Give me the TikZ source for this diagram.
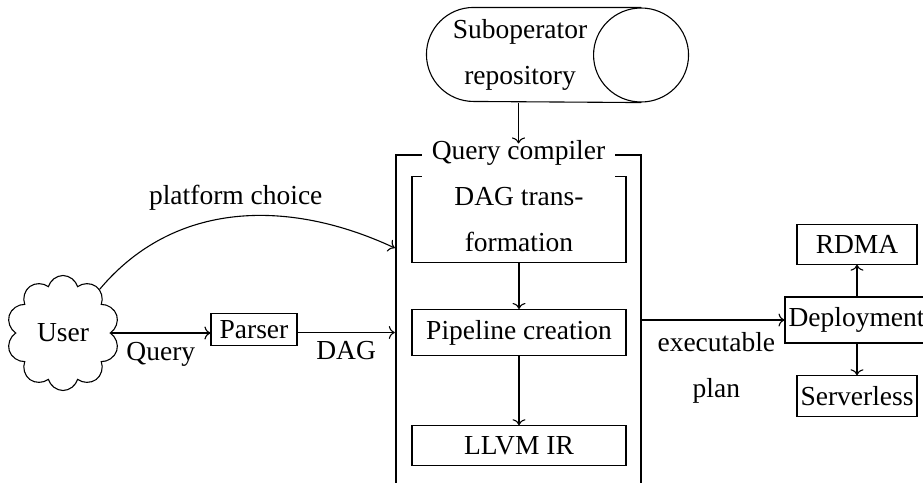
\documentclass[tikz,border=0pt]{standalone}
\usepackage{fontspec}
\setmainfont{Liberation Serif}
\usetikzlibrary{shapes.geometric,shapes.symbols,arrows.meta,calc}
\begin{document}
\begin{tikzpicture}[x=1pt,y=-1pt,
  font=\fontsize{27.5}{46}\selectfont,
  line width=1.1pt,
  arr/.style={-{To[length=6pt,width=13pt]}},
  box/.style={draw, rectangle, inner xsep=3.5pt, inner ysep=10.5pt},
  cbox/.style={box, minimum width=214pt, align=center},
]
\useasboundingbox (0,0) rectangle (923,482);
% suboperator repository (horizontal cylinder)
\node[minimum width=261pt, minimum height=94pt, inner sep=0pt] (repo) at (557.5,55) {};
\node[align=center, inner sep=0pt] (repotxt) at (520,55) {Suboperator\\repository};
\draw ($(repo.north east)+(-47.5,0)$) -- ($(repo.north west)+(47,0)$)
  arc[start angle=-90, end angle=-270, radius=47]
  -- ($(repo.south east)+(-47.5,0)$);
\draw ($(repo.east)+(-47.5,0)$) ellipse[x radius=47.5, y radius=47];

\node[draw, line width=2.4pt, minimum width=245pt, minimum height=360pt] (qc) at (518.5,335) {};
\node[cbox] (dag) at (519,219.5) {DAG trans-\\formation};
\node[cbox] (pipe) at (519,332.5) {Pipeline creation};
\node[cbox] (llvm) at (519,445.5) {LLVM IR};
\node[fill=white, inner xsep=10pt, inner ysep=0pt, text height=15pt, text depth=19pt] (qcl) at (518.5,161) {Query compiler};
\draw[arr] (qcl.north |- repo.south) -- (qcl.north);
\draw[arr] (dag) -- (pipe);
\draw[arr] (pipe) -- (llvm);

\node[cloud, draw, cloud puffs=10, aspect=1, minimum width=113pt, minimum height=115pt, inner sep=0pt] (user) at (63,333) {User};
\node[box, inner ysep=7pt, minimum width=86pt] (parser) at (254,329.5) {Parser};
\draw[arr] (user.east) -- node[below, yshift=-5pt]{Query} (user.east -| parser.west);
\draw[arr] (parser.east |- pipe.west) -- node[below, yshift=-5pt]{DAG} (qc.west |- pipe.west);
\coordinate (pcy) at (0,248);
\draw[arr] (user.50) to[out=50,in=155] node[above, yshift=2pt]{platform choice} (qc.west |- pcy);

\node[box] (dep) at (856.5,320) {Deployment};
\node[box, minimum width=120pt] (rdma) at (857,244.5) {RDMA};
\node[box, minimum width=120pt] (srv) at (857,396) {Serverless};
\draw[arr] (rdma.south |- dep.north) -- (rdma.south);
\draw[arr] (srv.north |- dep.south) -- (srv.north);
\draw[arr] (qc.east |- dep.west) -- node[below, align=center, yshift=-9pt, xshift=3pt]{executable\\plan} (dep.west);
\end{tikzpicture}
\end{document}
